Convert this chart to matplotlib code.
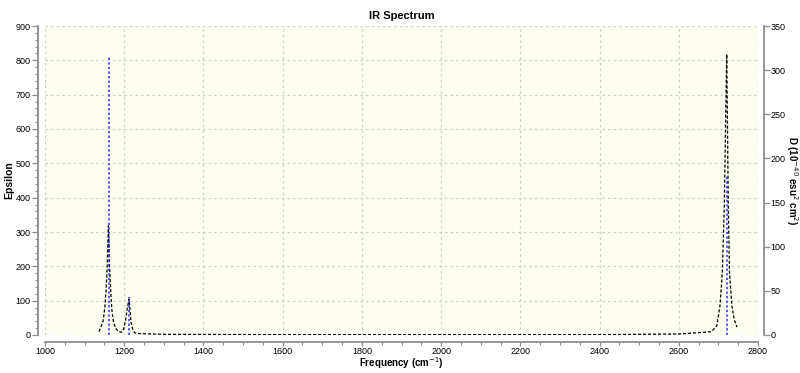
import matplotlib
matplotlib.use("Agg")
import matplotlib.pyplot as plt
from matplotlib.ticker import MultipleLocator

# broadened spectrum (left axis, Epsilon)
CURVE_FREQ = [1136, 1141, 1147, 1151, 1154, 1157, 1160, 1163, 1166, 1169, 1173,
              1178, 1185, 1194, 1199, 1204, 1208, 1212, 1215, 1217, 1222, 1227,
              1240, 1300, 1600, 2000, 2400, 2600, 2641, 2665, 2683, 2696, 2704,
              2710, 2715, 2718, 2721, 2723, 2725, 2728, 2734, 2740, 2747]
CURVE_EPS = [10, 22, 42, 80, 125, 200, 318, 200, 125, 70, 38,
             20, 10, 8, 18, 47, 80, 105, 70, 38, 14, 6,
             4, 2, 1, 1, 1, 3, 6, 8, 10, 27, 85,
             183, 377, 600, 818, 600, 377, 183, 85, 45, 23]

# stick intensities (right axis)
STICK_FREQ = [1161, 1212, 2721]
STICK_D = [315, 43, 181]

BG = "#fdfdf1"
SPINE = "#8c8c8c"
GRID = "#cfcfcf"

plt.rcParams.update({
    "font.family": ["Liberation Sans", "DejaVu Sans"],
    "font.size": 7,
})

fig = plt.figure(figsize=(8, 3.73), dpi=100)
ax = fig.add_axes([45 / 800, 1 - 335 / 373, 713 / 800, 309 / 373])
ax.set_facecolor(BG)

ax.plot(CURVE_FREQ, CURVE_EPS, color="black", lw=0.9, dashes=(2.5, 1.5))
ax.set_xlim(1000, 2800)
ax.set_ylim(0, 900)
ax.xaxis.set_major_locator(MultipleLocator(200))
ax.xaxis.set_minor_locator(MultipleLocator(50))
ax.yaxis.set_major_locator(MultipleLocator(100))
ax.yaxis.set_minor_locator(MultipleLocator(20))
ax.grid(which="major", color=GRID, lw=0.9, dashes=(2, 2.5))
ax.set_axisbelow(True)

ax2 = ax.twinx()
ax2.vlines(STICK_FREQ, 0, STICK_D, color="#2a2aff", lw=1.1, linestyles=(0, (1.5, 1.5)))
ax2.set_ylim(0, 350)
ax2.yaxis.set_major_locator(MultipleLocator(50))

for a in (ax, ax2):
    a.spines["top"].set_visible(False)
    for s in a.spines.values():
        s.set_color(SPINE)
        s.set_linewidth(1.3)
    a.tick_params(which="major", length=4, width=0.9, color=SPINE, labelsize=6.5, pad=1.5)
    a.tick_params(which="minor", length=2, width=0.8, color=SPINE)
ax2.tick_params(which="major", pad=1)
ax.tick_params(axis="x", which="major", length=3, pad=1)

ax.spines["left"].set_position(("outward", 5))
ax.spines["bottom"].set_position(("outward", 5))
ax.spines["right"].set_visible(False)
ax2.spines["left"].set_visible(False)
ax2.spines["bottom"].set_visible(False)
ax2.spines["right"].set_position(("outward", 4))

ax.set_title("IR Spectrum", fontsize=8, fontweight="bold", pad=5)
ax.set_xlabel("Frequency (cm$^{-1}$)", fontsize=7, fontweight="bold", va="center")
ax.xaxis.set_label_coords(0.5, -0.092)
ax.set_ylabel("Epsilon", fontsize=7.5, fontweight="bold", labelpad=1)
ax2.set_ylabel("D (10$^{-40}$ esu$^{2}$ cm$^{2}$)", fontsize=7, fontweight="bold",
               rotation=270, va="center")
ax2.yaxis.set_label_coords(1.048, 0.5)

fig.savefig("out.png", dpi=100, facecolor="white")
